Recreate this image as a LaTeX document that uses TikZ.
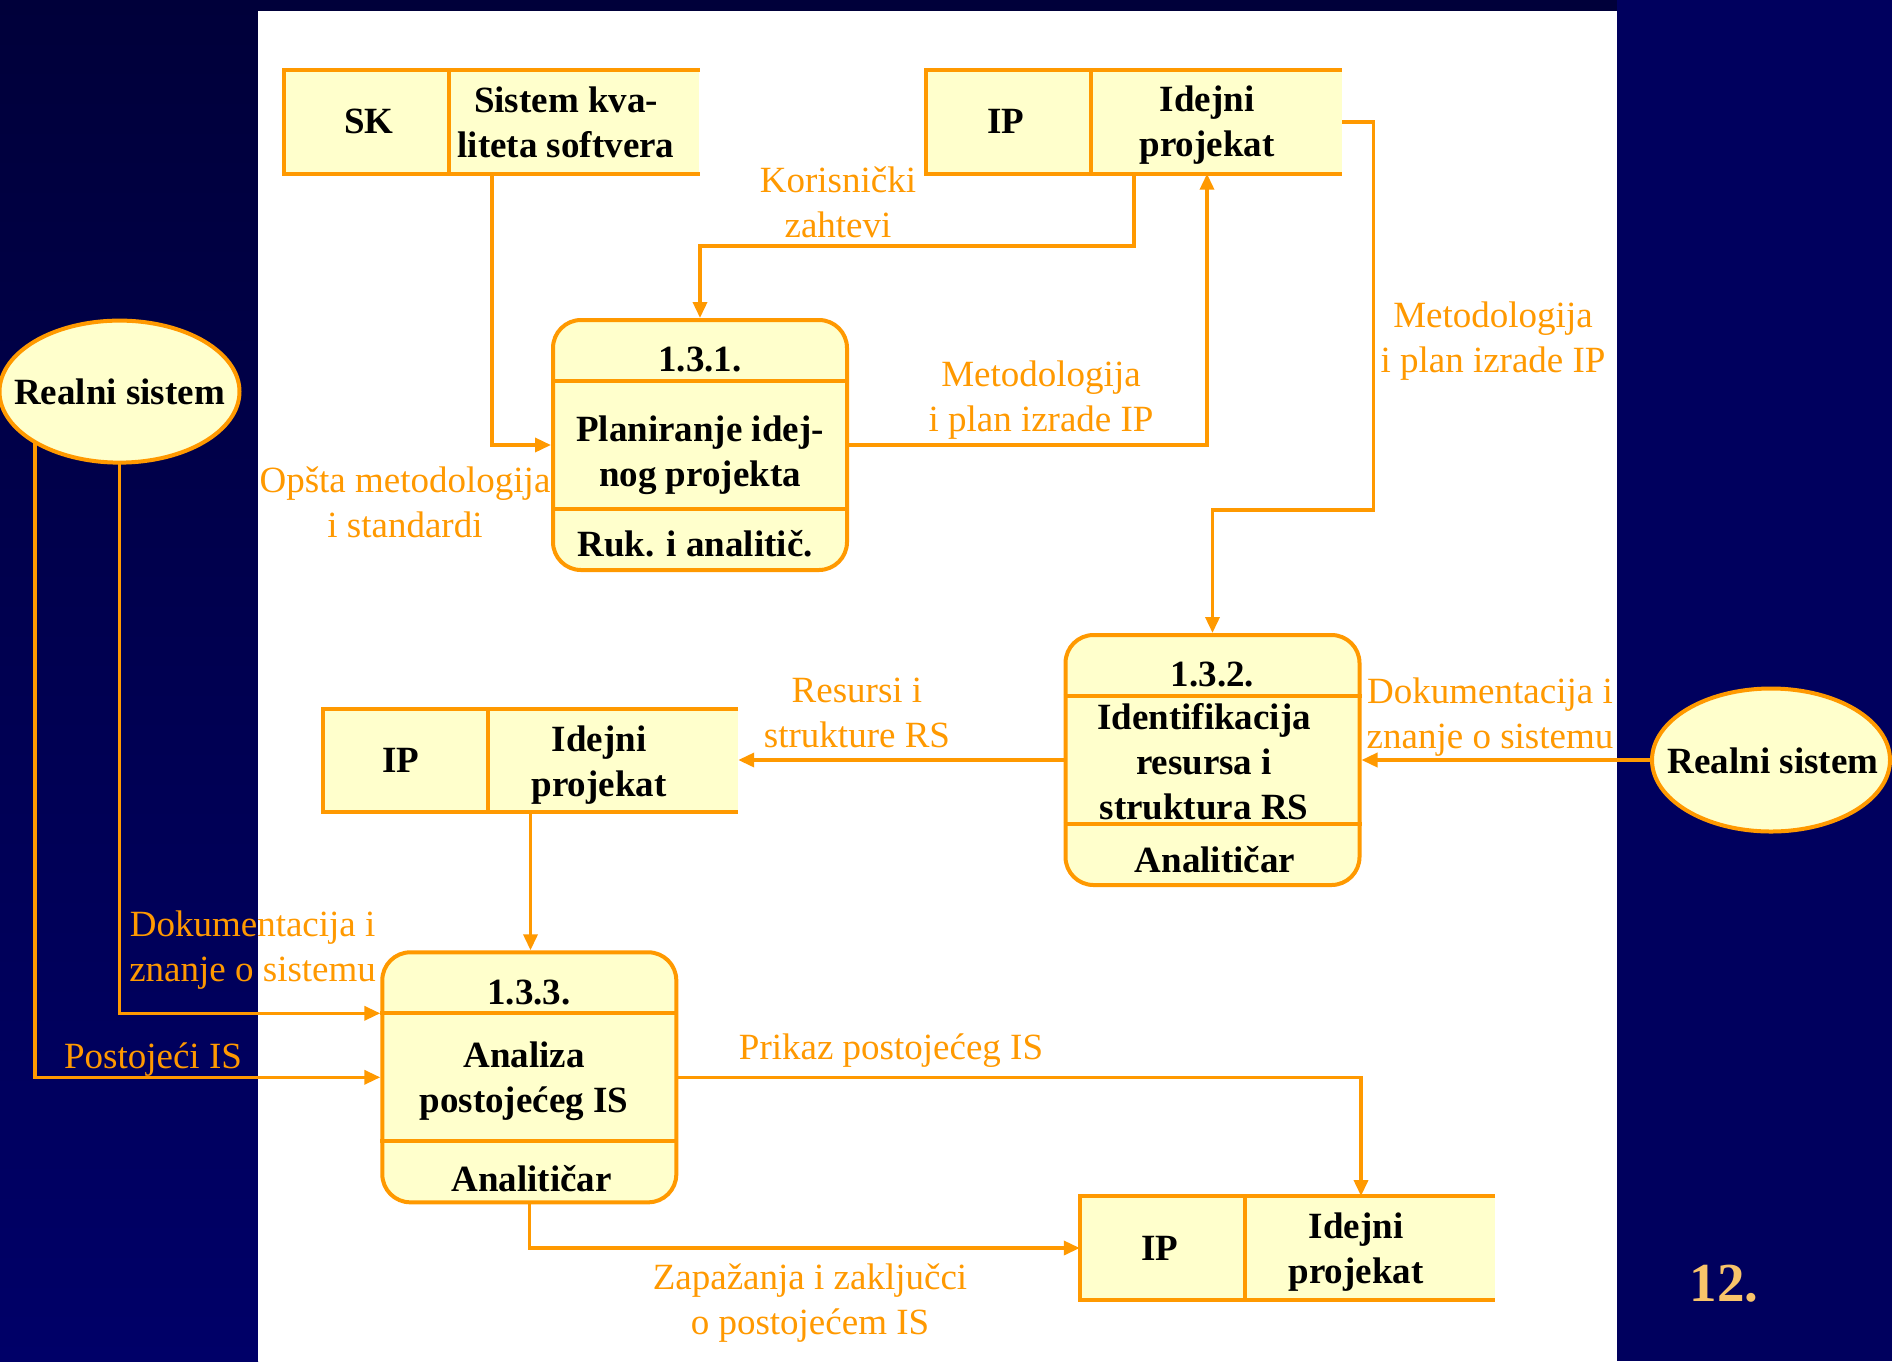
\documentclass[tikz,border=0pt]{standalone}
\usepackage{fontspec}
\setmainfont{Liberation Serif}
\usetikzlibrary{arrows.meta,calc,shapes.geometric}
\definecolor{navy}{HTML}{00005E}
\definecolor{navydark}{HTML}{00003A}
\definecolor{navylow}{HTML}{000068}
\definecolor{orng}{HTML}{FF9900}
\definecolor{pale}{HTML}{FFFFCC}
\definecolor{gold}{HTML}{F8C46A}
\pgfdeclarelayer{bg}
\pgfdeclarelayer{conn}
\pgfsetlayers{bg,conn,main}
\begin{document}
\begin{tikzpicture}[x=1pt,y=-1pt,
  store/.style={fill=pale,draw=none,minimum width=415pt,minimum height=103.5pt,inner sep=0pt},
  storeline/.style={draw=orng,line width=4pt},
  proc/.style={fill=pale,draw=orng,line width=4pt,rounded corners=28pt,minimum width=294pt,minimum height=250pt,inner sep=0pt},
  divline/.style={draw=orng,line width=4pt},
  ent/.style={ellipse,fill=pale,draw=orng,line width=4pt,inner sep=0pt,minimum width=240pt,minimum height=142pt},
  btxt/.style={font=\bfseries\fontsize{37}{45}\selectfont,align=center,inner sep=0pt,text=black},
  lbl/.style={font=\fontsize{37}{45}\selectfont,align=center,inner sep=0pt,text=orng},
  flow/.style={draw=orng,line width=3.5pt,-{Triangle[length=16pt,width=14pt]}}
]
\useasboundingbox (0,0) rectangle (1892,1361);
\begin{pgfonlayer}{bg}
  \fill[navy] (0,0) rectangle (1892,1361);
  \shade[top color=navydark,bottom color=navylow] (0,0) rectangle (258,1361);
  \fill[navydark] (258,0) rectangle (1617,11);
  \fill[white] (258,11) rectangle (1617,1361);
\end{pgfonlayer}

% data stores
\node[store] (sk)  at (491.8,121.75) {};
\node[store] (ip1) at (1134,121.75) {};
\node[store] (ip2) at (530.5,760.5) {};
\node[store] (ip3) at (1287.5,1248) {};
\foreach \s in {sk,ip1,ip2,ip3}{
  \draw[storeline] (\s.north east) -- (\s.north west) -- (\s.south west) -- (\s.south east);
  \draw[storeline] ($(\s.north west)+(165,0)$) -- ($(\s.south west)+(165,0)$);
}
\node[btxt] (skid) at (369,121) {SK};
\node[btxt] (skname) at (566,122) {Sistem kva-\\liteta softvera};
\node[btxt] (ip1id) at (1006,121) {IP};
\node[btxt] (ip1name) at (1207,125.5) {Idejni\\projekat};
\node[btxt] (ip2id) at (401,760) {IP};
\node[btxt] (ip2name) at (599,765) {Idejni\\projekat};
\node[btxt] (ip3id) at (1160,1248) {IP};
\node[btxt] (ip3name) at (1356,1252) {Idejni\\projekat};

% processes
\node[proc] (p1) at (700,445) {};
\node[proc] (p2) at (1212.5,760) {};
\node[proc] (p3) at (529.3,1077.3) {};
\foreach \p in {p1,p2,p3}{
  \draw[divline] ($(\p.north west)+(0,63)$) -- ($(\p.north east)+(0,63)$);
  \draw[divline] ($(\p.south west)+(0,-63)$) -- ($(\p.south east)+(0,-63)$);
}
\node[btxt] (p1num) at (700,360) {1.3.1.};
\node[btxt] (p1name) at (700,455) {Planiranje idej-\\nog projekta};
\node[btxt] (p1who) at (695,544) {Ruk. i analitič.};
\node[btxt] (p2num) at (1212.6,674.5) {1.3.2.};
\node[btxt] (p2name) at (1204,761.25) {Identifikacija\\resursa i\\struktura RS};
\node[btxt] (p2who) at (1215,860) {Analitičar};
\node[btxt] (p3num) at (529,992) {1.3.3.};
\node[btxt] (p3name) at (524,1081) {Analiza\\postojećeg IS};
\node[btxt] (p3who) at (531.7,1178.7) {Analitičar};

% external entities
\node[ent] (rs1) at (119.5,391.6) {};
\node[btxt] (rs1t) at (rs1.center) {Realni sistem};
\node[ent,minimum width=238pt,minimum height=143pt] (rs2) at (1771,760) {};
\node[btxt] (rs2t) at ($(rs2.center)+(2,1)$) {Realni sistem};

% connectors
\begin{pgfonlayer}{conn}
  \draw[flow] (sk.south) |- (p1.west);
  \draw[flow] (ip1.south) -- ++(0,72.5) -| (p1.north);
  \draw[flow] (p1.east) -| ($(ip1.south)+(73,0)$);
  \draw[flow] (ip1.east) -| ++(32,388) -| (p2.north);
  \draw[flow] (rs2.center) -- (p2.east);
  \draw[flow] (p2.west) -- (p2.west -| ip2.east);
  \draw[flow] (ip2.south) -- (ip2.south |- p3.north);
  \draw[flow] (rs1.center) |- ($(p3.west)+(0,-64)$);
  \draw[flow] ($(rs1.center)+(-84.5,0)$) |- (p3.west);
  \draw[flow] (p3.east) -| ($(ip3.north)+(73.5,0)$);
  \draw[flow] (p3.south) |- (ip3.west);
\end{pgfonlayer}

% flow labels
\node[lbl] (l1) at (838,202) {Korisnički\\zahtevi};
\node[lbl] (l2) at (1041,400) {Metodologija\\i plan izrade IP};
\node[lbl] (l3) at (1493,341) {Metodologija\\i plan izrade IP};
\node[lbl] (l4) at (405,502) {Opšta metodologija\\i standardi};
\node[lbl] (l5) at (857,713) {Resursi i\\strukture RS};
\node[lbl] (l6) at (1490,717) {Dokumentacija i\\znanje o sistemu};
\node[lbl] (l7) at (252.6,950.5) {Dokumentacija i\\znanje o sistemu};
\node[lbl] (l8) at (153,1060) {Postojeći IS};
\node[lbl] (l9) at (891,1051) {Prikaz postojećeg IS};
\node[lbl] (l10) at (810,1303) {Zapažanja i zaključci\\o postojećem IS};

\node[font=\bfseries\fontsize{55}{60}\selectfont,text=gold,inner sep=0pt] (pagenum) at (1724,1284) {12.};
\end{tikzpicture}
\end{document}
